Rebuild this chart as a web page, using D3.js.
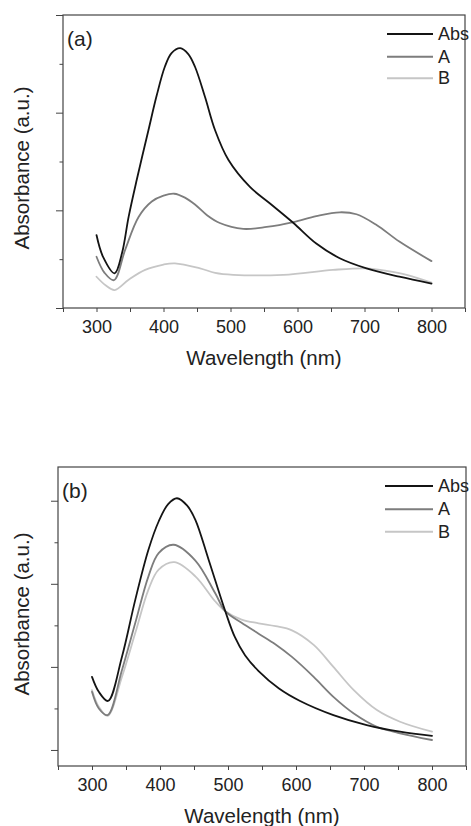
<!DOCTYPE html>
<html><head><meta charset="utf-8">
<script src="https://cdn.jsdelivr.net/npm/d3@7"></script>
<style>
html,body{margin:0;padding:0;background:#fff;}
svg text{font-family:"Liberation Sans",Arial,sans-serif;fill:#222;}
</style></head>
<body><svg id="c" width="471" height="826"></svg>
<script>
// ---------- DATA ----------
const seriesNames = ["Abs", "A", "B"];
const xTickValues = [300, 400, 500, 600, 700, 800];

// Panel (a)
const aAbsWl = [300,310,327,338,348,360,377.5,390,402,412,425,437,447,462,477,497,529,559,594,628,663,703,752,800];
const aAbsV  = [0.747,0.52,0.355,0.56,0.935,1.31,1.82,2.18,2.47,2.61,2.66,2.6,2.47,2.16,1.82,1.515,1.24,1.07,0.87,0.66,0.51,0.406,0.32,0.25];
const aAWl   = [300,312,326,343,362.6,382.5,400,416,432,447,465,484,519,554,594,628,663,688,718,752,800];
const aAV    = [0.525,0.36,0.285,0.60,0.93,1.09,1.15,1.17,1.13,1.06,0.95,0.87,0.81,0.83,0.88,0.94,0.98,0.96,0.85,0.68,0.48];
const aBWl   = [300,314,327,348,372.6,400,417,454.5,477,504,579,653,703,733,763,800];
const aBV    = [0.32,0.23,0.184,0.29,0.39,0.445,0.457,0.406,0.36,0.34,0.34,0.39,0.406,0.38,0.34,0.26];

// Panel (b)
const bAbsWl = [300,310,323.5,344,363.7,383,398,412,425,440,452,471.5,496,510,525,545,575,606,655,704,753,800];
const bAbsV  = [0.88,0.70,0.59,1.12,1.81,2.41,2.75,2.96,3.03,2.94,2.77,2.29,1.67,1.36,1.14,0.95,0.74,0.59,0.42,0.30,0.22,0.17];
const bAWl   = [300,310,323,344,363.7,383,398,420,452,481,496,520,545,570,594,626,655,685,719,753,800];
const bAV    = [0.70,0.50,0.42,0.96,1.53,2.09,2.37,2.47,2.28,1.89,1.67,1.53,1.40,1.27,1.12,0.88,0.64,0.44,0.28,0.20,0.12];
const bBWl   = [300,310,323,344,363.7,383,398,421,452,481,496,520,545,570,594,626,655,685,719,753,800];
const bBV    = [0.72,0.52,0.41,0.88,1.41,1.93,2.17,2.26,2.09,1.79,1.67,1.57,1.525,1.49,1.44,1.265,1.0,0.72,0.48,0.34,0.22];

// ---------- DRAW ----------
const svg = d3.select("#c");
const colors = {"Abs":"#141414","A":"#7d7d7d","B":"#c6c6c6"};
const zip = (w,v)=>w.map((x,i)=>({x:x,y:v[i]}));

function panel(cfg){
  const g = svg.append("g");
  const x = d3.scaleLinear().domain([250,850]).range([cfg.left,cfg.right]);
  const y = d3.scaleLinear().domain(cfg.yDomain).range([cfg.bottom,cfg.top]);

  const xMinor = d3.range(250,851,100);
  const xa = g.append("g").attr("transform",`translate(0,${cfg.bottom})`)
    .call(d3.axisBottom(x).tickValues(xTickValues).tickSize(4).tickFormat(d3.format("d")));
  xa.select(".domain").remove();
  xa.selectAll("line").attr("stroke","#444").attr("stroke-width",1);
  xa.selectAll("text").attr("font-size","18px").attr("fill","#222").attr("dy",null)
    .attr("y",25).attr("font-family","Liberation Sans, Arial, sans-serif");
  const xm = g.append("g").attr("transform",`translate(0,${cfg.bottom})`)
    .call(d3.axisBottom(x).tickValues(xMinor).tickSize(4).tickFormat(""));
  xm.select(".domain").remove();
  xm.selectAll("line").attr("stroke","#444");

  const ya = g.append("g").attr("transform",`translate(${cfg.left},0)`)
    .call(d3.axisLeft(y).tickValues([0,1,2,3]).tickSize(7).tickFormat(""));
  ya.select(".domain").remove();
  ya.selectAll("line").attr("stroke","#444");
  const ym = g.append("g").attr("transform",`translate(${cfg.left},0)`)
    .call(d3.axisLeft(y).tickValues([0.5,1.5,2.5]).tickSize(3.5).tickFormat(""));
  ym.select(".domain").remove();
  ym.selectAll("line").attr("stroke","#444");

  g.append("rect").attr("x",cfg.left).attr("y",cfg.top)
    .attr("width",cfg.right-cfg.left).attr("height",cfg.bottom-cfg.top)
    .attr("fill","none").attr("stroke","#444").attr("stroke-width",1.2);

  const line = d3.line().x(d=>x(d.x)).y(d=>y(d.y)).curve(d3.curveCatmullRom.alpha(0.5));
  ["B","A","Abs"].forEach(n=>{
    g.append("path").datum(cfg.data[n]).attr("d",line)
      .attr("fill","none").attr("stroke",colors[n]).attr("stroke-width",1.8)
      .attr("stroke-linejoin","round").attr("stroke-linecap","round");
  });

  g.append("text").attr("x",cfg.left+4).attr("y",cfg.labelY).attr("font-size","21px").text(cfg.label);

  seriesNames.forEach((n,i)=>{
    const ly = cfg.legY[i];
    g.append("line").attr("x1",cfg.legX1).attr("x2",cfg.legX2).attr("y1",ly).attr("y2",ly)
      .attr("stroke",colors[n]).attr("stroke-width",2);
    g.append("text").attr("x",cfg.legX2+5).attr("y",ly+6).attr("font-size","18px").text(n);
  });

  g.append("text").attr("x",(cfg.left+cfg.right)/2).attr("y",cfg.bottom+57)
    .attr("text-anchor","middle").attr("font-size","20.5px").text("Wavelength (nm)");
  g.append("text").attr("transform",`translate(28.5,${cfg.yTitleC}) rotate(-90)`)
    .attr("text-anchor","middle").attr("font-size","20.5px").text("Absorbance (a.u.)");
}

panel({left:63,right:465,top:15,bottom:308,yDomain:[0,3],label:"(a)",labelY:46,
  legX1:387,legX2:433,legY:[34,56.7,78.3],yTitleC:168,
  data:{Abs:zip(aAbsWl,aAbsV),A:zip(aAWl,aAV),B:zip(aBWl,aBV)}});
panel({left:58,right:466,top:467,bottom:766,yDomain:[-0.193,3.406],label:"(b)",labelY:498,
  legX1:385,legX2:433,legY:[486,509.3,531.7],yTitleC:614,
  data:{Abs:zip(bAbsWl,bAbsV),A:zip(bAWl,bAV),B:zip(bBWl,bBV)}});
</script></body></html>
